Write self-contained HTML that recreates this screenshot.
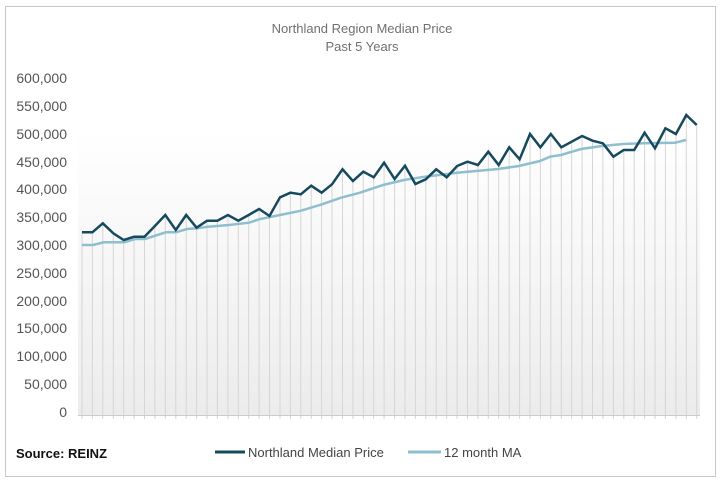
<!DOCTYPE html>
<html><head><meta charset="utf-8"><style>
html,body{margin:0;padding:0;background:#fff;width:720px;height:480px;overflow:hidden}
svg{display:block}
text{font-family:"Liberation Sans",sans-serif}
</style></head><body>
<svg id="s" width="720" height="480" viewBox="0 0 720 480" xmlns="http://www.w3.org/2000/svg">
<defs><linearGradient id="g" x1="0" y1="0" x2="0" y2="1"><stop offset="0" stop-color="#fff"/><stop offset="1" stop-color="#ececec"/></linearGradient></defs>
<rect x="5.5" y="6.5" width="710" height="470" fill="#fff" stroke="#c8c8c8" stroke-width="1"/>
<text x="362" y="33" text-anchor="middle" font-size="13" fill="#707070">Northland Region Median Price</text>
<text x="362" y="51" text-anchor="middle" font-size="13" fill="#707070">Past 5 Years</text>
<g font-size="14" fill="#555" text-anchor="end">
<text x="67" y="83">600,000</text><text x="67" y="111">550,000</text><text x="67" y="139">500,000</text><text x="67" y="167">450,000</text><text x="67" y="194">400,000</text><text x="67" y="222">350,000</text><text x="67" y="250">300,000</text><text x="67" y="278">250,000</text><text x="67" y="306">200,000</text><text x="67" y="333">150,000</text><text x="67" y="361">100,000</text><text x="67" y="389">50,000</text><text x="67" y="417">0</text>
</g>
<rect x="78" y="130" width="622" height="285" fill="url(#g)"/>
<g id="vl" stroke="#d6d6d6" stroke-width="1"></g>
<line x1="78" y1="415.5" x2="700" y2="415.5" stroke="#ccc"/>
<polyline id="ma" fill="none" stroke="#8fbfcf" stroke-width="2.5" points=""/>
<polyline id="md" fill="none" stroke="#17495e" stroke-width="2.5" points=""/>
<text x="16" y="458" font-size="13" font-weight="bold" fill="#111">Source:  REINZ</text>
<line x1="215" y1="452" x2="245" y2="452" stroke="#17495e" stroke-width="3"/>
<text x="248" y="457" font-size="13" fill="#444">Northland Median Price</text>
<line x1="408" y1="452" x2="441" y2="452" stroke="#8fbfcf" stroke-width="3"/>
<text x="444" y="457" font-size="13" fill="#444">12 month MA</text>
</svg>
<script>
var md=[232.3,232.3,223.3,233.3,240,236.7,236.7,226,215,230,215,227.7,220.7,220.7,215,220.7,215,209,216,197.3,192.7,194.3,185.7,192.7,184.3,169.3,181,171.7,177.3,162.7,179,165.7,184,179.3,169.3,177.3,166,161.7,165,151.7,165,147.3,159.3,134,147.3,134,147.3,141.7,136,140.7,143.3,156.7,150,150,132.7,148.3,128.3,134,115,125];
var maK=[[82,245],[93,245],[104,242.3],[124,242.3],[135,239],[145,239],[166,232.3],[176,232.3],[187,229],[197,228.3],[208,226.7],[229,225],[249,222.7],[259,219.3],[280,215],[301,210.7],[322,204.3],[341,197.7],[360,192.7],[383,185],[404,180],[425,176.7],[457,172.7],[498,169],[519,166],[540,161],[550,156.7],[561,155],[581,149],[602,146],[623,144],[643,143.3],[675,142.7],[686,140]];
var step=(696.7-82)/59,p=[],v="";
for(var i=0;i<md.length;i++){var x=82+i*step;p.push(x.toFixed(1)+","+md[i]);v+='<line x1="'+x.toFixed(1)+'" y1="'+md[i]+'" x2="'+x.toFixed(1)+'" y2="419"/>';}
document.getElementById("md").setAttribute("points",p.join(" "));
document.getElementById("vl").innerHTML=v;
document.getElementById("ma").setAttribute("points",maK.map(function(a){return a[0]+","+a[1]}).join(" "));
</script>
</body></html>
